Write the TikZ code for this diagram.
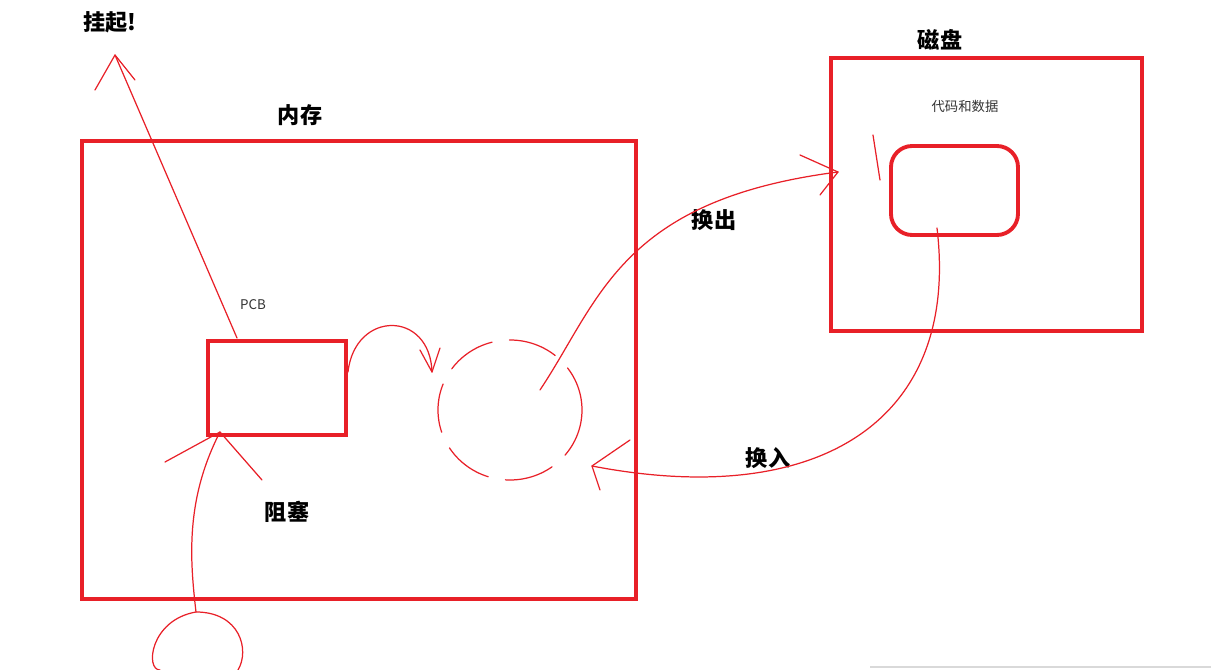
\documentclass[tikz,border=0pt]{standalone}
\usepackage{fontspec}
\setmainfont{Noto Sans CJK SC}
\definecolor{hred}{RGB}{232,32,40}
\begin{document}
\begin{tikzpicture}[x=0.01cm,y=-0.01cm,
  box/.style={draw=hred,line width=1.1pt},
  pen/.style={draw=hred,line width=0.35pt,line cap=round,line join=round},
  big/.style={font=\bfseries\fontsize{6.3}{7.5}\selectfont},
  small/.style={font=\fontsize{3.8}{4.5}\selectfont,text=black!80}]
\useasboundingbox (0,0) rectangle (1211,670);
\draw[box] (82,141) rectangle (636,599);
\draw[box] (208,341) rectangle (346,435);
\coordinate (pcbtop) at (237,338);
\coordinate (pcbbot) at (220,432);
\draw[box] (831,58) rectangle (1142,331);
\draw[box,rounded corners=6pt] (891,146) rectangle (1018,235);
\node[big] (nc) at (300,115) {内存};
\node[big] (cp) at (940,40) {磁盘};
\node[big] (gq) at (110,22) {挂起!};
\node[big] (hc) at (714,220) {换出};
\node[big] (hr) at (768,458) {换入};
\node[big] (zs) at (287,512) {阻塞};
\node[small] (pcb) at (253,305) {PCB};
\node[small] (dm) at (965,106) {代码和数据};
% suspend arrow
\coordinate (gqt) at (115,55);
\draw[pen] (pcbtop) -- (gqt);
\draw[pen] (95,90) -- (gqt) -- (135,80);
% block arrow with loop
\draw[pen] (pcbbot) .. controls (185,500) and (190,560) .. (196,612)
  .. controls (150,620) and (145,670) .. (160,670);
\draw[pen] (196,612) .. controls (240,612) and (250,650) .. (238,670);
\draw[pen] (165,462) -- (pcbbot) -- (262,480);
% pcb to circle
\coordinate (ca) at (432,372);
\draw[pen] (348,372) .. controls (355,310) and (430,310) .. (ca);
\draw[pen] (420,350) -- (ca) -- (440,348);
% dashed circle
\draw[pen,dash pattern=on 14pt off 5pt] (510,410) ellipse (72 and 70);
% swap out
\coordinate (so) at (838,172);
\draw[pen] (540,390) .. controls (600,300) and (620,200) .. (so);
\draw[pen] (800,155) -- (so) -- (820,195);
\draw[pen] (873,135) -- (880,180);
% swap in
\coordinate (si) at (592,466);
\draw[pen] (937,228) .. controls (960,420) and (820,510) .. (si);
\draw[pen] (630,440) -- (si) -- (600,490);
\draw[black!15,line width=0.3pt] (870,667) -- (1211,667);
\end{tikzpicture}
\end{document}
